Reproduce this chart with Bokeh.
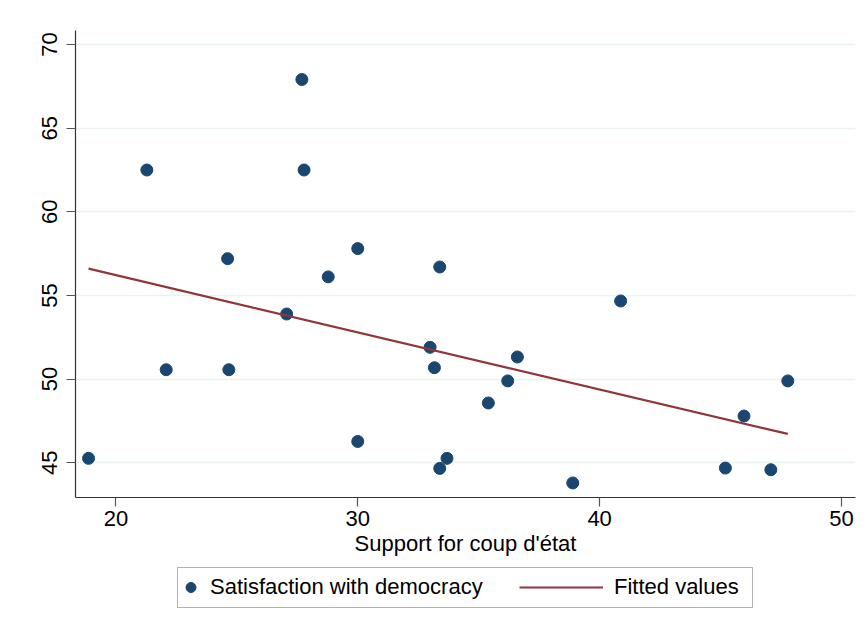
from bokeh.plotting import figure
from bokeh.layouts import column
from bokeh.models import Range1d, FixedTicker, Legend, LegendItem, BoxAnnotation
from bokeh.embed import file_html
from bokeh.resources import INLINE

# Data
support_coup = [18.87, 21.28, 22.08, 24.62, 24.67, 27.06, 27.69, 27.78, 28.78, 30.0,
                30.0, 32.99, 33.17, 33.39, 33.39, 33.69, 35.4, 36.2, 36.6, 38.89,
                40.87, 45.2, 45.97, 47.08, 47.78]
satisfaction = [45.26, 62.5, 50.56, 57.2, 50.56, 53.89, 67.91, 62.5, 56.11, 57.8,
                46.27, 51.9, 50.68, 56.7, 44.66, 45.26, 48.57, 49.89, 51.32, 43.79,
                54.67, 44.68, 47.79, 44.58, 49.89]
fit_x = [18.87, 47.78]
fit_y = [56.6, 46.72]
x_ticks = [20, 30, 40, 50]
y_ticks = [45, 50, 55, 60, 65, 70]
legend_labels = ["Satisfaction with democracy", "Fitted values"]

FONT = "Liberation Sans"
NAVY = "#1a476f"
MAROON = "#90353b"
BORDER_L, BORDER_R = 75, 12

p = figure(width=867, height=563, output_backend="svg", toolbar_location=None,
           x_range=Range1d(18.33, 50.58), y_range=Range1d(42.92, 70.84),
           min_border_left=BORDER_L, min_border_right=BORDER_R, min_border_top=30,
           min_border_bottom=66)
p.outline_line_color = None
p.background_fill_color = "white"
p.border_fill_color = "white"

# grid
p.xgrid.grid_line_color = None
p.ygrid.grid_line_color = "#eaf2f3"
p.ygrid.grid_line_width = 1.6
p.ygrid.ticker = FixedTicker(ticks=y_ticks)

# axes
for ax in (p.xaxis[0], p.yaxis[0]):
    ax.axis_line_color = "#333333"
    ax.axis_line_width = 1.2
    ax.major_tick_line_color = "#555555"
    ax.major_tick_line_width = 1.2
    ax.major_tick_in = 0
    ax.major_tick_out = 9
    ax.minor_tick_line_color = None
    ax.major_label_text_font = FONT
    ax.major_label_text_font_size = "22px"
    ax.major_label_text_color = "black"

p.xaxis.ticker = FixedTicker(ticks=x_ticks)
p.yaxis.ticker = FixedTicker(ticks=y_ticks)
p.yaxis.major_label_orientation = "parallel"
p.yaxis.major_label_standoff = 9
p.xaxis.major_label_standoff = 4
p.xaxis.axis_label = "Support for coup d'état"
p.xaxis.axis_label_text_font = FONT
p.xaxis.axis_label_text_font_size = "22px"
p.xaxis.axis_label_text_font_style = "normal"
p.xaxis.axis_label_text_color = "black"
p.xaxis.axis_label_standoff = 2

p.scatter(support_coup, satisfaction, size=12, fill_color=NAVY, line_color=NAVY)
p.line(fit_x, fit_y, line_color=MAROON, line_width=2.2)

# legend strip below the chart (pixel-sized ranges for layout only)
lg = figure(width=867, height=70, output_backend="svg", toolbar_location=None,
            x_range=Range1d(0, 780), y_range=Range1d(0, 70),
            x_axis_type=None, y_axis_type=None,
            min_border_left=BORDER_L, min_border_right=BORDER_R,
            min_border_top=0, min_border_bottom=0)
lg.grid.visible = False
lg.outline_line_color = None
lg.background_fill_color = "white"
lg.border_fill_color = "white"

# key renderers use the same styles; drawn on an off-screen range so only the key shows
lg.extra_x_ranges = {"off": Range1d(1000, 1001)}
key_pts = lg.scatter(support_coup, satisfaction, size=12, fill_color=NAVY,
                     line_color=NAVY, x_range_name="off")
key_fit = lg.line(fit_x, fit_y, line_color=MAROON, line_width=2.2, x_range_name="off")

lg.add_layout(BoxAnnotation(left=102, right=677, bottom=26, top=66,
                            fill_alpha=0, line_color="black", line_width=1))

common = dict(orientation="horizontal", label_text_font=FONT,
              label_text_font_size="22px", label_text_color="black",
              glyph_height=26, label_height=26, padding=0, margin=0,
              border_line_color=None, background_fill_alpha=0)
leg_a = Legend(items=[LegendItem(label=legend_labels[0], renderers=[key_pts])],
               location=(103, 33), glyph_width=25, label_standoff=7, **common)
leg_b = Legend(items=[LegendItem(label=legend_labels[1], renderers=[key_fit])],
               location=(444, 33), glyph_width=84, label_standoff=11, **common)
lg.add_layout(leg_a, "center")
lg.add_layout(leg_b, "center")

layout = column(p, lg, spacing=0)
open("out.html", "w").write(file_html(layout, INLINE))
